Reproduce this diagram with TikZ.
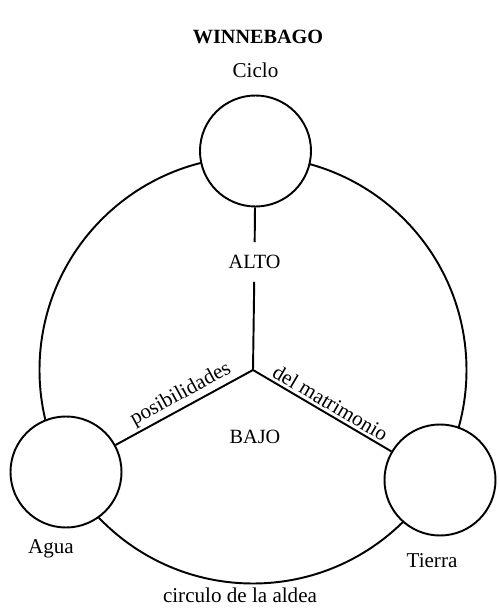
\documentclass[tikz,border=0pt]{standalone}
\usepackage{fontspec}
\setmainfont{Liberation Serif}
\usetikzlibrary{positioning}

\begin{document}
\begin{tikzpicture}[line width=1.1pt,
		lugar/.style = {draw, circle, fill=white, minimum size=2.22cm, inner sep=0pt},
		rotulo/.style = {font=\fontsize{12}{14}\selectfont},
		zona/.style = {font=\fontsize{11.5}{14}\selectfont, inner sep=0pt}]
		\useasboundingbox (-5.06,-4.78) rectangle (4.94,7.4);
		\draw (0,0) circle (4.27);
		\coordinate (centro) at (0,0);
		\node[lugar] (ciclo) at (0.05,4.38) {};
		\node[lugar] (agua) at (-3.74,-2.04) {};
		\node[lugar] (tierra) at (3.74,-2.2) {};
		\node[zona, inner ysep=0.24cm] (alto) at (0.03,2.16) {ALTO};
		\node[zona] (bajo) at (0.04,-1.34) {BAJO};
		\draw (centro) -- (alto);
		\draw (alto) -- (ciclo);
		\draw (agua) -- node[rotulo, sloped, above, pos=0.52, inner sep=1.5pt] {posibilidades} (centro);
		\draw (centro) -- node[rotulo, sloped, above, pos=0.52, inner sep=1.5pt] {del matrimonio} (tierra);
		\node[rotulo, above=0.2cm of ciclo] (ciclotxt) {Ciclo};
		\node[font=\bfseries\fontsize{11.5}{14}\selectfont] (titulo) at (0.1,6.66) {WINNEBAGO};
		\node[rotulo, below=0.08cm of agua, xshift=-0.3cm] (aguatxt) {Agua};
		\node[rotulo, below=0.2cm of tierra, xshift=-0.16cm] (tierratxt) {Tierra};
		\node[rotulo] (aldea) at (-0.26,-4.5) {circulo de la aldea};
	\end{tikzpicture}
\end{document}
